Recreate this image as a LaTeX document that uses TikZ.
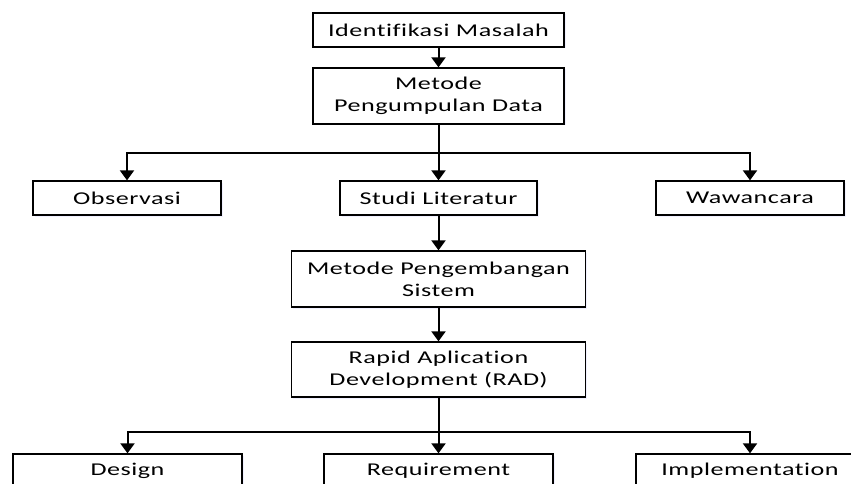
\documentclass[tikz,border=0pt]{standalone}
\usepackage{fontspec}
\newfontfamily\boxfont[FakeStretch=1.45, LetterSpace=3, Ligatures={NoCommon}]{Carlito}
\usetikzlibrary{arrows.meta,shadows}
\begin{document}
\begin{tikzpicture}[x=1pt,y=-1pt,
  box/.style={draw=black, line width=1.3pt, fill=white, inner sep=0pt, align=center,
    font=\boxfont\fontsize{18}{22}\selectfont,
    drop shadow={shadow xshift=1.5pt, shadow yshift=-1.5pt, fill=blue!30, opacity=0.2}},
  conn/.style={line width=2pt, draw=black},
  arr/.style={conn, -{Triangle[width=14pt,length=10pt]}}]
\useasboundingbox (0,0) rectangle (851,484);
\clip (0,0) rectangle (851,484);
\node[box, minimum width=251pt, minimum height=34pt] (idm) at (438.5,30) {Identifikasi Masalah};
\node[box, minimum width=251pt, minimum height=56pt] (mpd) at (438.5,96) {Metode\\Pengumpulan Data};
\node[box, minimum width=188pt, minimum height=34pt] (obs) at (127,198) {Observasi};
\node[box, minimum width=197pt, minimum height=34pt] (stu) at (438.5,198) {Studi Literatur};
\node[box, minimum width=188pt, minimum height=34pt] (waw) at (750,198) {Wawancara};
\node[box, minimum width=294pt, minimum height=56pt] (mps) at (438.5,279) {Metode Pengembangan\\Sistem};
\node[box, minimum width=294pt, minimum height=55pt] (rad) at (438.5,369.5) {Rapid Aplication\\Development (RAD)};
\node[box, minimum width=229pt, minimum height=34pt] (des) at (127.5,471) {Design};
\node[box, minimum width=229pt, minimum height=34pt] (req) at (438.5,471) {Requirement};
\node[box, minimum width=228pt, minimum height=34pt] (imp) at (750,471) {Implementation};
\coordinate (j1) at (438.5,153);
\coordinate (j2) at (438.5,432);
\draw[arr] (idm.south) -- (mpd.north);
\draw[conn] (mpd.south) -- (j1);
\draw[arr] (j1) -| (obs.north);
\draw[arr] (j1) -| (waw.north);
\draw[arr] (j1) -- (stu.north);
\draw[arr] (stu.south) -- (mps.north);
\draw[arr] (mps.south) -- (rad.north);
\draw[conn] (rad.south) -- (j2);
\draw[arr] (j2) -| (des.north);
\draw[arr] (j2) -| (imp.north);
\draw[arr] (j2) -- (req.north);
\end{tikzpicture}
\end{document}
